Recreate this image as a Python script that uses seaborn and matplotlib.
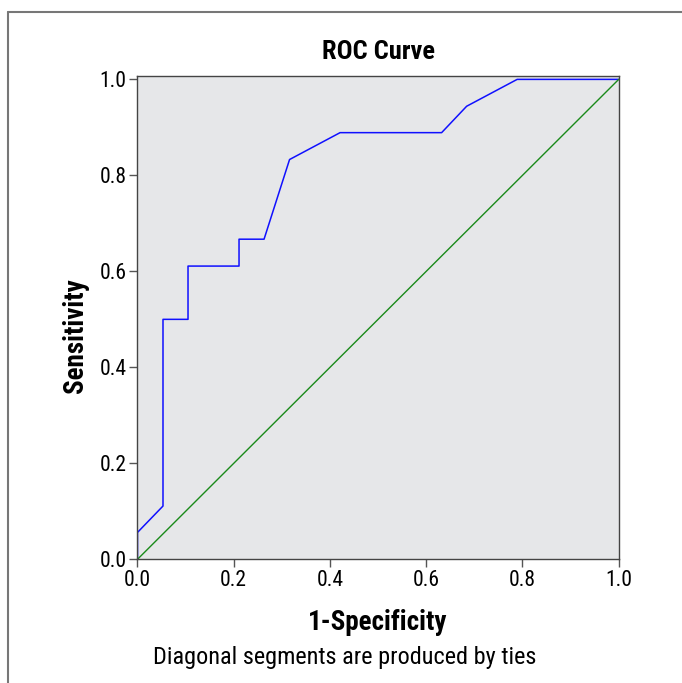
import numpy as np
import pandas as pd
import matplotlib.pyplot as plt
import seaborn as sns

# ROC curve points (1 - specificity, sensitivity)
fpr = [0.0, 0.0, 0.053, 0.053, 0.105, 0.105, 0.211, 0.211, 0.263, 0.316,
       0.421, 0.632, 0.684, 0.789, 1.0]
tpr = [0.0, 0.056, 0.111, 0.5, 0.5, 0.611, 0.611, 0.667, 0.667, 0.833,
       0.889, 0.889, 0.944, 1.0, 1.0]
ref_x = [0.0, 1.0]
ref_y = [0.0, 1.0]
ticks = [0.0, 0.2, 0.4, 0.6, 0.8, 1.0]

sns.set_theme(style="white")
plt.rcParams['font.family'] = ['Roboto Condensed', 'Liberation Sans Narrow', 'Liberation Sans', 'DejaVu Sans']
plt.rcParams['text.color'] = 'black'

fig = plt.figure(figsize=(6.82, 6.83), dpi=100)
ax = fig.add_axes([0.2016, 0.1811, 0.7056, 0.7076])
ax.set_facecolor("#e6e7e9")

roc = pd.DataFrame({"fpr": fpr, "tpr": tpr})
diag = pd.DataFrame({"x": ref_x, "y": ref_y})
sns.lineplot(data=roc, x="fpr", y="tpr", sort=False, estimator=None, errorbar=None,
             color="#1010ff", linewidth=1.1, ax=ax)
sns.lineplot(data=diag, x="x", y="y", sort=False, estimator=None, errorbar=None,
             color="#1a8a1a", linewidth=1.0, ax=ax)

ax.set_xlim(0, 1.0)
ax.set_ylim(0, 1.007)
ax.set_xticks(ticks)
ax.set_yticks(ticks)
ax.set_xticklabels([f"{t:.1f}" for t in ticks])
ax.set_yticklabels([f"{t:.1f}" for t in ticks])
ax.tick_params(axis="both", direction="out", length=6, width=1, color="#555555",
               labelsize=15.5, labelcolor="black", pad=2, bottom=True, left=True)
for s in ax.spines.values():
    s.set_color("#444444")
    s.set_linewidth(1.0)

ax.set_title("ROC Curve", fontsize=19, fontweight="bold", pad=12, color="black")
ax.set_xlabel("1-Specificity", fontsize=19.5, fontweight="bold", labelpad=13, color="black")
ax.set_ylabel("Sensitivity", fontsize=19.5, fontweight="bold", color="black")
ax.yaxis.set_label_coords(-0.10, 0.462)

fig.text(0.505, 0.038, "Diagonal segments are produced by ties", ha="center", va="center",
         fontsize=17.5, color="black")

# outer frame (top and left edges only visible)
fig.add_artist(plt.Line2D([0.0115, 1.0], [0.9825, 0.9825], color="#777777", linewidth=1.5))
fig.add_artist(plt.Line2D([0.0115, 0.0115], [0.0, 0.9825], color="#777777", linewidth=1.5))

fig.savefig("out.png", dpi=100)
